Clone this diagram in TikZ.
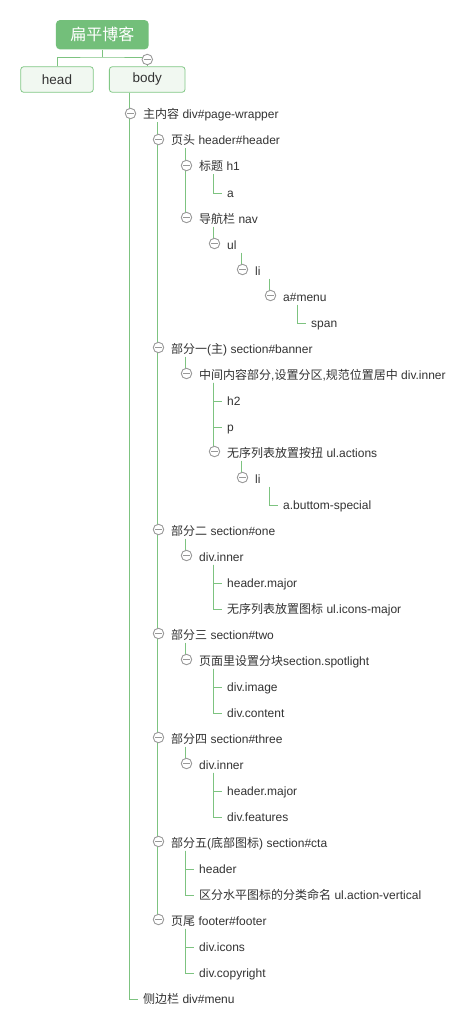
\documentclass[tikz,border=0pt]{standalone}
\usepackage{fontspec}
\setmainfont{Liberation Sans}
\newfontfamily\cjk{Noto Sans CJK SC}
\definecolor{conng}{HTML}{7DC380}
\definecolor{rootg}{HTML}{73BF7A}
\definecolor{boxb}{HTML}{82C886}
\definecolor{boxf}{HTML}{F1F8F1}
\definecolor{cg}{HTML}{999999}
\definecolor{tc}{HTML}{333333}
\newcommand\mrow[3]{%
 \pgfmathsetmacro\mLx{129.3+28*(#2-1)}%
 \pgfmathsetmacro\mRy{115+26*#1}%
 \node[txt] (n#1) at (\mLx+13.7,\mRy) {#3};
 \coordinate (c#1) at (\mLx+1.2,\mRy-1.5);
 \coordinate (v#1) at (\mLx+28,\mRy+7.5);
 \coordinate (e#1) at (\mLx+8.5,\mRy);}
\newcommand\leafc[2]{\draw[conn] (v#1) |- (e#2);}
\newcommand\nodec[2]{\draw[conn] (v#1) -- (v#1 |- c#2);}
\newcommand\togc[1]{\node[tog] (t#1) at (c#1) {};}
\begin{document}
\begin{tikzpicture}[x=1pt,y=-1pt,
  conn/.style={draw=conng, line width=0.9pt},
  txt/.style={anchor=west, inner sep=0pt, text height=10pt, text depth=2pt, text=tc, font=\fontsize{12}{14}\selectfont},
  tog/.style={circle, draw=cg, fill=white, minimum size=10.5pt, inner sep=0pt, line width=0.9pt,
    path picture={\draw[cg, line width=0.9pt] ([xshift=-3.4pt]path picture bounding box.center) -- ([xshift=3.4pt]path picture bounding box.center);}},
  rootbox/.style={fill=rootg, rounded corners=4pt, minimum width=92.7pt, minimum height=29.3pt, text=white, font=\fontsize{16}{18}\selectfont},
  tbox/.style={draw=boxb, fill=boxf, line width=0.8pt, rounded corners=3pt, minimum height=25.6pt, text=tc, font=\fontsize{13.5}{15}\selectfont}
]
\fill[white] (0,0) rectangle (475,1027);
\useasboundingbox (0,0) rectangle (475,1027);
% top
\node[rootbox] (root) at (102.3,34.7) {{\cjk 扁平博客}};
\node[tbox, minimum width=72.6pt] (head) at (57,79.5) {head};
\node[tbox, minimum width=75.7pt] (body) at (147.2,79.5) {body};
\coordinate (j) at (102.3,57);
\draw[conn] (root.south) -- (j);
\draw[conn] (head.north) |- (j) -- (j -| body.north) -- (body.north);
\node[tog] (tbody) at (147.3,59.5) {};
% rows
\mrow{0}{1}{{\cjk 主内容} div\#page-wrapper}
\mrow{1}{2}{{\cjk 页头} header\#header}
\mrow{2}{3}{{\cjk 标题} h1}
\mrow{3}{4}{a}
\mrow{4}{3}{{\cjk 导航栏} nav}
\mrow{5}{4}{ul}
\mrow{6}{5}{li}
\mrow{7}{6}{a\#menu}
\mrow{8}{7}{span}
\mrow{9}{2}{{\cjk 部分一}({\cjk 主}) section\#banner}
\mrow{10}{3}{{\cjk 中间内容部分},{\cjk 设置分区},{\cjk 规范位置居中} div.inner}
\mrow{11}{4}{h2}
\mrow{12}{4}{p}
\mrow{13}{4}{{\cjk 无序列表放置按扭} ul.actions}
\mrow{14}{5}{li}
\mrow{15}{6}{a.buttom-special}
\mrow{16}{2}{{\cjk 部分二} section\#one}
\mrow{17}{3}{div.inner}
\mrow{18}{4}{header.major}
\mrow{19}{4}{{\cjk 无序列表放置图标} ul.icons-major}
\mrow{20}{2}{{\cjk 部分三} section\#two}
\mrow{21}{3}{{\cjk 页面里设置分块}section.spotlight}
\mrow{22}{4}{div.image}
\mrow{23}{4}{div.content}
\mrow{24}{2}{{\cjk 部分四} section\#three}
\mrow{25}{3}{div.inner}
\mrow{26}{4}{header.major}
\mrow{27}{4}{div.features}
\mrow{28}{2}{{\cjk 部分五}({\cjk 底部图标}) section\#cta}
\mrow{29}{3}{header}
\mrow{30}{3}{{\cjk 区分水平图标的分类命名} ul.action-vertical}
\mrow{31}{2}{{\cjk 页尾} footer\#footer}
\mrow{32}{3}{div.icons}
\mrow{33}{3}{div.copyright}
\mrow{34}{1}{{\cjk 侧边栏} div\#menu}
% connectors
\coordinate (vb) at ([xshift=20pt]body.south west);
\draw[conn] (vb) |- (e34);
\draw[conn] (vb) -- (vb |- c0);
\nodec{0}{31}
\nodec{1}{4}
\leafc{2}{3}
\nodec{4}{5}
\nodec{5}{6}
\nodec{6}{7}
\leafc{7}{8}
\nodec{9}{10}
\leafc{10}{11}
\leafc{10}{12}
\nodec{10}{13}
\nodec{13}{14}
\leafc{14}{15}
\nodec{16}{17}
\leafc{17}{18}
\leafc{17}{19}
\nodec{20}{21}
\leafc{21}{22}
\leafc{21}{23}
\nodec{24}{25}
\leafc{25}{26}
\leafc{25}{27}
\leafc{28}{29}
\leafc{28}{30}
\leafc{31}{32}
\leafc{31}{33}
% toggles
\foreach \k in {0,1,2,4,5,6,7,9,10,13,14,16,17,20,21,24,25,28,31}{\togc{\k}}
\end{tikzpicture}
\end{document}
